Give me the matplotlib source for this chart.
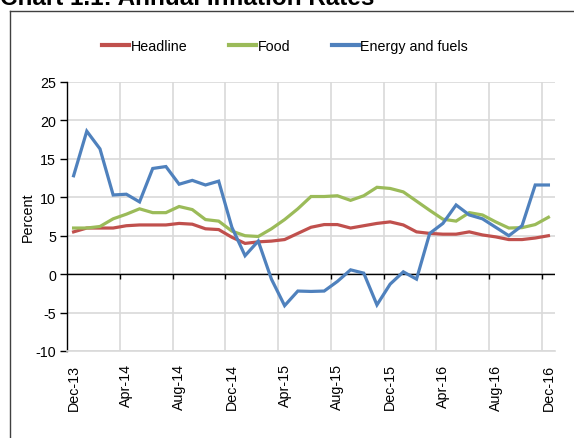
import numpy as np
import matplotlib
matplotlib.use("Agg")
import matplotlib.pyplot as plt
from matplotlib.lines import Line2D

plt.rcParams['font.family'] = ['Liberation Sans', 'DejaVu Sans']
plt.rcParams['axes.unicode_minus'] = False

# Monthly data, Dec-13 .. Dec-16
months = ["Dec-13", "Jan-14", "Feb-14", "Mar-14", "Apr-14", "May-14", "Jun-14", "Jul-14",
          "Aug-14", "Sep-14", "Oct-14", "Nov-14", "Dec-14", "Jan-15", "Feb-15", "Mar-15",
          "Apr-15", "May-15", "Jun-15", "Jul-15", "Aug-15", "Sep-15", "Oct-15", "Nov-15",
          "Dec-15", "Jan-16", "Feb-16", "Mar-16", "Apr-16", "May-16", "Jun-16", "Jul-16",
          "Aug-16", "Sep-16", "Oct-16", "Nov-16", "Dec-16"]

headline = [5.5, 6.0, 6.0, 6.0, 6.3, 6.4, 6.4, 6.4, 6.6, 6.5, 5.9, 5.8, 4.8, 4.0, 4.2, 4.3,
            4.5, 5.3, 6.1, 6.45, 6.45, 6.0, 6.3, 6.6, 6.8, 6.4, 5.5, 5.3, 5.2, 5.2, 5.5, 5.1,
            4.85, 4.5, 4.5, 4.7, 5.0]

food = [6.0, 6.0, 6.2, 7.2, 7.8, 8.5, 8.0, 8.0, 8.8, 8.4, 7.1, 6.9, 5.6, 5.0, 4.9, 5.9,
        7.1, 8.5, 10.1, 10.1, 10.2, 9.6, 10.2, 11.3, 11.15, 10.7, 9.5, 8.3, 7.15, 6.9, 8.0, 7.7,
        6.8, 6.0, 6.05, 6.45, 7.4]

energy = [12.8, 18.6, 16.3, 10.3, 10.4, 9.4, 13.75, 14.0, 11.7, 12.2, 11.6, 12.1, 6.1, 2.4, 4.3, -0.65,
          -4.1, -2.2, -2.25, -2.2, -0.95, 0.56, 0.13, -4.0, -1.3, 0.3, -0.65, 5.3, 6.6, 9.0, 7.7, 7.2,
          6.1, 5.0, 6.3, 11.6, 11.6]

red = "#C0504D"
green = "#9BBB59"
blue = "#4F81BD"

x = np.arange(len(months))

fig = plt.figure(figsize=(5.74, 4.39), dpi=100)
ax = fig.add_axes([67 / 574, 1 - 352 / 439, (555 - 67) / 574, (352 - 83) / 439])

ax.plot(x, headline, color=red, lw=2.3, solid_joinstyle="miter", zorder=3)
ax.plot(x, food, color=green, lw=2.3, solid_joinstyle="miter", zorder=3)
ax.plot(x, energy, color=blue, lw=2.3, solid_joinstyle="miter", zorder=4)

ax.set_xlim(-0.5, len(months) - 0.5)
ax.set_ylim(-10, 25)
ax.set_yticks(range(-10, 26, 5))

# labels every 4 months, gridlines on category boundaries
ax.set_xticks(x[::4])
ax.set_xticklabels(months[::4], rotation=90)
bounds = np.arange(-0.5, len(months) - 0.5, 4)
ax.set_xticks(bounds, minor=True)
ax.tick_params(axis="x", which="both", length=0, pad=9, labelsize=10.3)
ax.tick_params(axis="y", direction="out", length=5, width=1, labelsize=10.3, pad=3)

ax.grid(axis="y", color="#d9d9d9", lw=1.2)
ax.grid(axis="x", which="minor", color="#d9d9d9", lw=1.2)
ax.set_axisbelow(True)

for s in ["top", "right"]:
    ax.spines[s].set_visible(False)
ax.spines["bottom"].set_color("#d9d9d9")
ax.spines["bottom"].set_linewidth(1.2)
ax.spines["left"].set_color("black")
ax.spines["left"].set_linewidth(1.0)

# zero axis with tick marks
ax.axhline(0, color="black", lw=1.0, zorder=2)
ax.vlines(bounds[1:], -0.65, 0, color="black", lw=1.0, zorder=2)

ax.set_ylabel("Percent", fontsize=10.3, labelpad=0)

handles = [Line2D([], [], color=red, lw=3),
           Line2D([], [], color=green, lw=3),
           Line2D([], [], color=blue, lw=3)]
fig.legend(handles, ["Headline", "Food", "Energy and fuels"], loc="center",
           bbox_to_anchor=(285 / 574, 1 - 47 / 439), ncol=3, frameon=False,
           fontsize=10.3, handlelength=1.9, handletextpad=0.1, columnspacing=2.9)

# outer frame and clipped title
fig.add_artist(Line2D([10 / 574, 10 / 574], [0, 1 - 12 / 439], color="#404040", lw=1.0))
fig.add_artist(Line2D([10 / 574, 1], [1 - 12 / 439, 1 - 12 / 439], color="#404040", lw=1.0))
fig.text(0.0, 1 - 5 / 439, "Chart 1.1: Annual Inflation Rates", fontsize=17.5,
         fontweight="bold", va="baseline", ha="left")

fig.savefig("out.png", dpi=100)
